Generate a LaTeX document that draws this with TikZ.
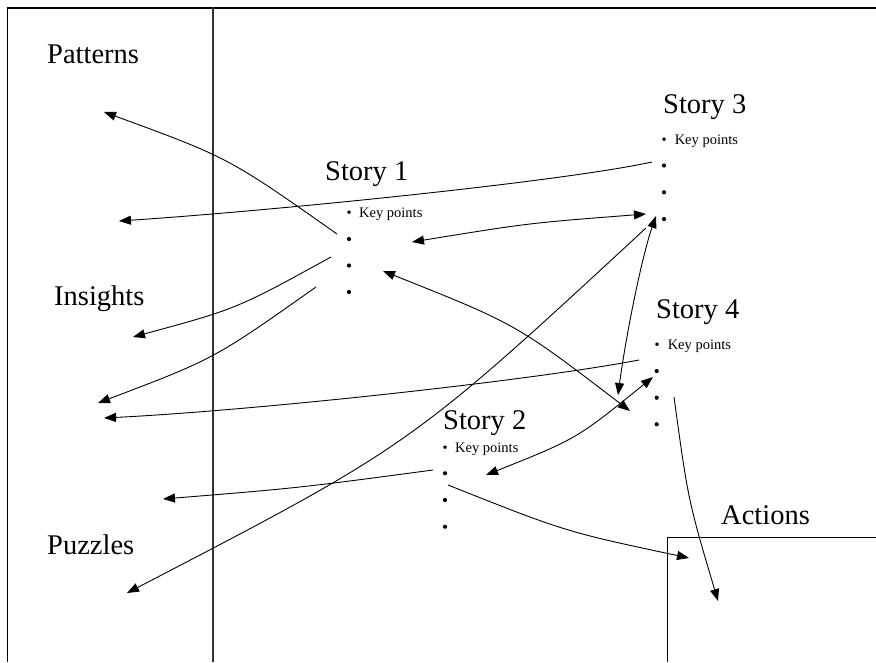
\documentclass[tikz,border=0pt]{standalone}
\usepackage{fontspec}
\setmainfont{Liberation Serif}
\usetikzlibrary{arrows.meta}
\begin{document}
\begin{tikzpicture}[x=1pt,y=-1pt,
  title/.style={font=\fontsize{28.5}{30}\selectfont, anchor=base west, inner sep=0pt},
  keyp/.style={font=\fontsize{14.5}{16}\selectfont, anchor=base west, inner sep=0pt},
  dotn/.style={circle, fill=black, inner sep=0pt, minimum size=4.2pt},
  tip/.style={line width=0.9pt, -{Triangle[length=12pt,width=9pt]}},
  dtip/.style={line width=0.9pt, {Triangle[length=12pt,width=9pt]}-{Triangle[length=12pt,width=9pt]}},
  frame/.style={line width=1.5pt},
  divider/.style={line width=1.2pt, black!80}]
\useasboundingbox (0,0) rectangle (876,662);
\fill[white] (0,0) rectangle (876,662);
% frame and regions
\draw[line width=2pt] (7,7.5) -- (876,7.5);
\draw[frame] (7.5,7) -- (7.5,662);
\draw[divider] (213,7) -- (213,662);
\draw[line width=1pt] (667,662) -- (667,537) -- (876,537);
% category labels
\node[title] (patterns) at (47,63) {Patterns};
\node[title] (insights) at (54,305) {Insights};
\node[title] (puzzles) at (47,554) {Puzzles};
\node[title] (actions) at (721,524) {Actions};
% Story 1
\node[title] (s1) at (325,180) {Story 1};
\node[keyp] (s1k) at (346.5,217) {\textbullet\hspace{7.4pt}Key points};
\node[dotn] (s1a) at (349,239) {};
\node[dotn] (s1b) at (349,265.5) {};
\node[dotn] (s1c) at (349,292) {};
% Story 3
\node[title] (s3) at (663,113) {Story 3};
\node[keyp] (s3k) at (661.5,144) {\textbullet\hspace{8pt}Key points};
\node[dotn] (s3a) at (664,165.5) {};
\node[dotn] (s3b) at (664,192.3) {};
\node[dotn] (s3c) at (664,219) {};
% Story 4
\node[title] (s4) at (656,318) {Story 4};
\node[keyp] (s4k) at (654.5,349.5) {\textbullet\hspace{8pt}Key points};
\node[dotn] (s4a) at (656.7,371) {};
\node[dotn] (s4b) at (656.7,397.7) {};
\node[dotn] (s4c) at (656.7,424.3) {};
% Story 2
\node[title] (s2) at (443,429) {Story 2};
\node[keyp] (s2k) at (442.5,452.5) {\textbullet\hspace{7.4pt}Key points};
\node[dotn] (s2a) at (445,473.3) {};
\node[dotn] (s2b) at (445,500) {};
\node[dotn] (s2c) at (445,526.7) {};
% connector ends
\coordinate (c1s) at (337,234);   \coordinate (c1e) at (104,112);
\coordinate (c2s) at (652,162);   \coordinate (c2e) at (119,221);
\coordinate (c3s) at (412,242);   \coordinate (c3e) at (646,214);
\coordinate (c4s) at (331,257);   \coordinate (c4e) at (133,337);
\coordinate (c5s) at (316,287);   \coordinate (c5e) at (98,403);
\coordinate (c6s) at (383,271);   \coordinate (c6e) at (630,411);
\coordinate (c7s) at (639,360);   \coordinate (c7e) at (104,418);
\coordinate (c8s) at (646,228);   \coordinate (c8e) at (127,593);
\coordinate (c9s) at (618,395);   \coordinate (c9e) at (656,216);
\coordinate (c10s) at (653,377);  \coordinate (c10e) at (486,475);
\coordinate (c11s) at (433,470);  \coordinate (c11e) at (163,499);
\coordinate (c12s) at (448,485);  \coordinate (c12e) at (689,558);
\coordinate (c13s) at (674,397);  \coordinate (c13e) at (718,601);
% connectors
\draw[tip] (c1s) .. controls (228.5,157.6) .. (c1e);
\draw[tip] (c2s) .. controls (560,182) and (269,211) .. (c2e);
\draw[dtip] (c3s) .. controls (529,223) .. (c3e);
\draw[tip] (c4s) .. controls (236.8,308.8) .. (c4e);
\draw[tip] (c5s) .. controls (214.3,358.8) .. (c5e);
\draw[dtip] (c6s) .. controls (516.3,324.1) .. (c6e);
\draw[tip] (c7s) .. controls (529,381) and (254,410.5) .. (c7e);
\draw[tip] (c8s) .. controls (411,445.4) .. (c8e);
\draw[dtip] (c9s) .. controls (626,335) and (642,256) .. (c9e);
\draw[dtip] (c10s) .. controls (576.9,438.7) .. (c10e);
\draw[tip] (c11s) .. controls (298,488) .. (c11e);
\draw[tip] (c12s) .. controls (565.4,531.7) .. (c12e);
\draw[tip] (c13s) .. controls (688.2,500.7) .. (c13e);
\end{tikzpicture}
\end{document}
